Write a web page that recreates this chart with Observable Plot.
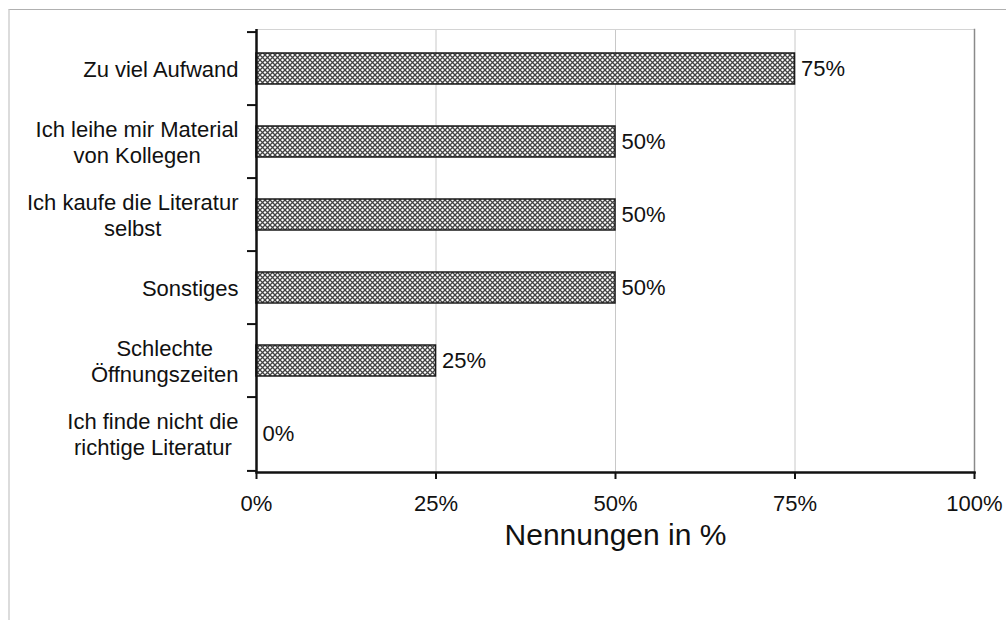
<!DOCTYPE html>
<html><head><meta charset="utf-8">
<script src="https://cdn.jsdelivr.net/npm/d3@7"></script>
<script src="https://cdn.jsdelivr.net/npm/@observablehq/plot@0.6"></script>
<style>
html,body{margin:0;padding:0;background:#fff;}
#wrap{position:relative;width:1006px;height:620px;overflow:hidden;font-family:"Liberation Sans",Arial,sans-serif;}
#border{position:absolute;left:8px;top:9px;width:1100px;height:700px;border-top:1.5px solid #b0b0b0;border-left:2px solid #dcdcdc;pointer-events:none;}
#chart{position:absolute;left:0;top:0;}
</style></head><body>
<div id="wrap"><div id="border"></div><div id="chart"></div></div>
<script>
const categories = [
  "Zu viel Aufwand",
  "Ich leihe mir Material\nvon Kollegen",
  "Ich kaufe die Literatur\nselbst",
  "Sonstiges",
  "Schlechte\nÖffnungszeiten",
  "Ich finde nicht die\nrichtige Literatur"
];
const values = [75, 50, 50, 50, 25, 0];
const xTicks = [0, 25, 50, 75, 100];
const gridTicks = [25, 50, 75];
const xLabel = "Nennungen in %";

const data = categories.map((c, i) => ({category: c, value: values[i]}));

const W = 1006, H = 620, mt = 29, mb = 148, ml = 256, mr = 32;
const step = (H - mt - mb) / categories.length;

const hatch = () => {
  const defs = d3.create("svg:defs");
  const p = defs.append("pattern").attr("id", "hatch")
    .attr("patternUnits", "userSpaceOnUse").attr("width", 5).attr("height", 5);
  p.append("rect").attr("width", 5).attr("height", 5).attr("fill", "#fff");
  p.append("path").attr("d", "M0,0L5,5M5,0L0,5")
    .attr("stroke", "#444").attr("stroke-width", 1.3).attr("fill", "none");
  return defs.node();
};

const chart = Plot.plot({
  width: W, height: H,
  marginTop: mt, marginBottom: mb, marginLeft: ml, marginRight: mr,
  style: {fontFamily: "Liberation Sans, Arial, sans-serif", color: "#111", background: "transparent"},
  x: {domain: [0, 100]},
  y: {domain: categories, paddingInner: 0.58, paddingOuter: 0.29, align: 0.5},
  marks: [
    hatch,
    Plot.gridX(gridTicks, {stroke: "#c8c8c8", strokeOpacity: 1, strokeWidth: 1}),
    Plot.frame({anchor: "top", stroke: "#d4d4d4"}),
    Plot.frame({anchor: "right", stroke: "#8a8a8a", strokeWidth: 1.5}),
    Plot.barX(data, {x: "value", y: "category", fill: "url(#hatch)", stroke: "#1a1a1a", strokeWidth: 1.5}),
    Plot.text(data, {x: "value", y: "category", text: d => d.value + "%", textAnchor: "start", dx: 6, fontSize: 22, fill: "#111"}),
    Plot.axisX(xTicks, {tickFormat: d => d + "%", tickSize: 7, tickPadding: 16, fontSize: 22, strokeWidth: 2, label: null}),
    Plot.frame({anchor: "bottom", stroke: "#111", strokeWidth: 2.5}),
    Plot.ruleX([0], {stroke: "#111", strokeWidth: 2.5}),
    Plot.axisY(categories, {tickSize: 9, tickFormat: () => "", dy: -step / 2, strokeWidth: 2, label: null}),
    Plot.axisY([categories[categories.length - 1]], {tickSize: 9, tickFormat: () => "", dy: step / 2, strokeWidth: 2, label: null}),
    Plot.axisY({tickSize: 0, tickPadding: 18, fontSize: 22, lineHeight: 1.18, label: null}),
    Plot.text([xLabel], {frameAnchor: "bottom", dy: 72, fontSize: 30, fill: "#111"})
  ]
});
document.getElementById("chart").appendChild(chart);

// center multi-line y labels relative to each other, keeping the block right-aligned
document.querySelectorAll('g[aria-label="y-axis tick label"] text').forEach(t => {
  const w = t.getBBox().width;
  if (!w) return;
  t.setAttribute("text-anchor", "middle");
  const spans = t.querySelectorAll("tspan");
  if (spans.length) spans.forEach(s => s.setAttribute("x", -w / 2));
  else t.setAttribute("x", -w / 2);
});
</script>
</body></html>
